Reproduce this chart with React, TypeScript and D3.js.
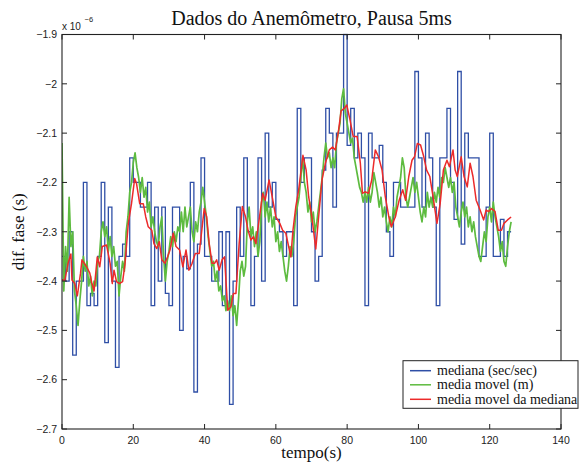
import React from 'react';
import * as d3 from 'd3';

const xTicks = [0, 20, 40, 60, 80, 100, 120, 140];
const yTicks = [-2.7, -2.6, -2.5, -2.4, -2.3, -2.2, -2.1, -2.0, -1.9];

// mediana (sec/sec): one value per second, t = 0..125, held until END_T
const medianaV = [
  -2.35, -2.4, -2.3, -2.55, -2.4, -2.4, -2.2, -2.45, -2.425, -2.45,
  -2.35, -2.2, -2.525, -2.25, -2.4, -2.575, -2.35, -2.325, -2.35, -2.15,
  -2.2, -2.2, -2.25, -2.25, -2.2, -2.45, -2.25, -2.4, -2.25, -2.425,
  -2.45, -2.25, -2.25, -2.5, -2.35, -2.375, -2.2, -2.625, -2.325, -2.15,
  -2.35, -2.35, -2.4, -2.4, -2.3, -2.45, -2.3, -2.65, -2.4, -2.25,
  -2.35, -2.15, -2.3, -2.45, -2.35, -2.15, -2.4, -2.1, -2.25, -2.2,
  -2.275, -2.3, -2.35, -2.3, -2.3, -2.45, -2.05, -2.2, -2.15, -2.15,
  -2.3, -2.4, -2.35, -2.175, -2.05, -2.1, -2.25, -2.1, -2.1, -1.9,
  -2.125, -2.05, -2.15, -2.1, -2.15, -2.45, -2.1, -2.15, -2.15, -2.125,
  -2.2, -2.3, -2.35, -2.2, -2.2, -2.25, -2.25, -2.25, -2.25, -1.975,
  -2.15, -2.25, -2.1, -2.15, -2.25, -2.45, -2.15, -2.15, -2.05, -2.2,
  -2.275, -1.975, -2.325, -2.1, -2.15, -2.15, -2.15, -2.35, -2.35, -2.25,
  -2.1, -2.35, -2.35, -2.275, -2.35, -2.3,
];
const MEDIANA_END_T = 126;

// media movel (m): sampled every 0.5 s
const MOVEL_DT = 0.5;
const movelV = [
  -2.12, -2.42, -2.33, -2.38, -2.23, -2.33, -2.30, -2.42, -2.45, -2.49,
  -2.44, -2.40, -2.35, -2.38, -2.36, -2.41, -2.39, -2.43, -2.40, -2.41,
  -2.36, -2.35, -2.30, -2.28, -2.31, -2.29, -2.34, -2.31, -2.35, -2.33,
  -2.37, -2.36, -2.43, -2.39, -2.36, -2.38, -2.30, -2.27, -2.22, -2.20,
  -2.16, -2.14, -2.17, -2.19, -2.22, -2.19, -2.23, -2.21, -2.26, -2.24,
  -2.29, -2.27, -2.30, -2.32, -2.33, -2.29, -2.27, -2.35, -2.40, -2.36,
  -2.34, -2.31, -2.33, -2.30, -2.32, -2.29, -2.30, -2.26, -2.30, -2.25,
  -2.29, -2.27, -2.25, -2.30, -2.32, -2.28, -2.30, -2.26, -2.24, -2.21,
  -2.24, -2.27, -2.31, -2.34, -2.37, -2.36, -2.40, -2.38, -2.42, -2.41,
  -2.44, -2.43, -2.46, -2.44, -2.46, -2.43, -2.47, -2.45, -2.49, -2.44,
  -2.38, -2.36, -2.39, -2.37, -2.28, -2.25, -2.31, -2.29, -2.33, -2.30,
  -2.35, -2.32, -2.24, -2.22, -2.27, -2.24, -2.28, -2.25, -2.29, -2.27,
  -2.32, -2.30, -2.34, -2.32, -2.35, -2.38, -2.40, -2.37, -2.33, -2.35,
  -2.32, -2.27, -2.25, -2.23, -2.19, -2.15, -2.20, -2.22, -2.26, -2.24,
  -2.28, -2.26, -2.30, -2.28, -2.25, -2.22, -2.19, -2.15, -2.12, -2.15,
  -2.14, -2.17, -2.15, -2.17, -2.12, -2.10, -2.08, -2.03, -2.01, -2.06,
  -2.08, -2.10, -2.12, -2.11, -2.15, -2.17, -2.19, -2.21, -2.22, -2.24,
  -2.22, -2.24, -2.21, -2.24, -2.22, -2.18, -2.20, -2.22, -2.25, -2.23,
  -2.27, -2.25, -2.28, -2.30, -2.27, -2.29, -2.25, -2.27, -2.23, -2.21,
  -2.19, -2.15, -2.17, -2.23, -2.25, -2.23, -2.21, -2.19, -2.22, -2.20,
  -2.23, -2.26, -2.28, -2.25, -2.27, -2.22, -2.25, -2.23, -2.25, -2.22,
  -2.24, -2.21, -2.23, -2.19, -2.20, -2.17, -2.19, -2.21, -2.19, -2.22,
  -2.20, -2.25, -2.27, -2.29, -2.26, -2.24, -2.27, -2.25, -2.29, -2.27,
  -2.30, -2.28, -2.31, -2.33, -2.35, -2.36, -2.33, -2.30, -2.32, -2.27,
  -2.25, -2.28, -2.24, -2.27, -2.29, -2.31, -2.34, -2.32, -2.36, -2.37,
  -2.33, -2.30, -2.28,
];

// media movel da mediana
const mediaMedianaT = [
  0, 0.8, 1.7, 2.5, 2.8, 3.6, 4.3, 5.2, 5.6, 6.9, 7.8, 8.4, 9.0, 9.9, 10.6, 11.3, 12.5, 13.5, 14.1, 14.6,
  15.3, 16.1, 17.0, 17.7, 18.6, 19.5, 20.4, 20.9, 21.8, 22.8, 23.5, 24.2, 25.2, 25.8, 26.6, 27.3, 28.0, 28.9, 29.6, 30.3,
  31.2, 32.0, 33.0, 33.9, 34.8, 35.6, 36.5, 37.4, 38.5, 39.9, 40.6, 41.3, 42.1, 42.8, 43.4, 44.1, 44.9, 45.6, 46.5, 47.4,
  48.1, 48.8, 49.7, 50.6, 51.5, 52.2, 53.0, 53.7, 54.4, 55.3, 56.3, 57.0, 58.1, 58.8, 60.0, 61.1, 61.9, 62.8, 64.2, 64.8,
  65.6, 66.4, 67.6, 68.5, 69.2, 70.1, 71.2, 72.0, 72.95, 73.9, 75.0, 75.9, 76.7, 77.6, 78.3, 79.2, 79.9, 80.8, 81.7, 82.8,
  83.7, 84.3, 85.0, 86.0, 86.9, 87.9, 88.8, 89.8, 90.7, 91.7, 92.4, 93.5, 94.6, 95.6, 96.4, 97.3, 98.2, 98.9, 99.7, 100.6,
  101.5, 102.3, 103.2, 104.1, 105.2, 106.1, 107.0, 108.0, 108.7, 109.7, 110.3, 110.9, 112.0, 112.8, 113.7, 114.5, 115.3, 116.2, 117.3, 118.3,
  119.0, 119.7, 120.5, 121.5, 122.4, 123.3, 124.0, 125.0, 126.0,
];
const mediaMedianaV = [
  -2.398, -2.398, -2.364, -2.345, -2.398, -2.405, -2.430, -2.384, -2.357, -2.371, -2.384, -2.405, -2.420, -2.351, -2.371, -2.330, -2.327, -2.364, -2.405, -2.378,
  -2.401, -2.405, -2.401, -2.364, -2.283, -2.243, -2.192, -2.202, -2.243, -2.243, -2.270, -2.290, -2.297, -2.324, -2.334, -2.320, -2.357, -2.364, -2.351, -2.337,
  -2.303, -2.330, -2.337, -2.371, -2.337, -2.378, -2.364, -2.344, -2.344, -2.253, -2.270, -2.324, -2.364, -2.364, -2.357, -2.378, -2.357, -2.351, -2.459, -2.452,
  -2.425, -2.425, -2.324, -2.249, -2.270, -2.297, -2.317, -2.310, -2.324, -2.276, -2.222, -2.236, -2.195, -2.222, -2.270, -2.283, -2.297, -2.303, -2.351, -2.297,
  -2.249, -2.215, -2.145, -2.175, -2.229, -2.270, -2.335, -2.270, -2.195, -2.161, -2.134, -2.128, -2.134, -2.094, -2.055, -2.050, -2.043, -2.073, -2.107, -2.107,
  -2.161, -2.222, -2.219, -2.222, -2.195, -2.134, -2.148, -2.175, -2.229, -2.270, -2.290, -2.270, -2.236, -2.215, -2.236, -2.188, -2.155, -2.148, -2.121, -2.124,
  -2.148, -2.175, -2.188, -2.229, -2.283, -2.243, -2.175, -2.155, -2.168, -2.134, -2.175, -2.188, -2.148, -2.188, -2.209, -2.161, -2.188, -2.236, -2.256, -2.276,
  -2.256, -2.259, -2.253, -2.259, -2.297, -2.297, -2.283, -2.276, -2.270,
];

const legendLabels = ['mediana (sec/sec)', 'media movel (m)', 'media movel da mediana'];
const colors = ['#2f4fa6', '#5dbb3f', '#ec2a2a'];

const W = 585;
const H = 467;
const M = { left: 62, right: 561, top: 34.5, bottom: 429 };

export default function App() {
  const x = d3.scaleLinear().domain([0, 140]).range([M.left, M.right]);
  const y = d3.scaleLinear().domain([-2.7, -1.9]).range([M.bottom, M.top]);

  const blueData: [number, number][] = medianaV.map((v, i) => [i, v]);
  blueData.push([MEDIANA_END_T, medianaV[medianaV.length - 1]]);
  const greenData: [number, number][] = movelV.map((v, i) => [i * MOVEL_DT, v]);
  const redData: [number, number][] = mediaMedianaT.map((t, i) => [t, mediaMedianaV[i]]);

  const lineStep = d3.line<[number, number]>().x(d => x(d[0])).y(d => y(d[1])).curve(d3.curveStepAfter);
  const line = d3.line<[number, number]>().x(d => x(d[0])).y(d => y(d[1]));

  const fmtY = (v: number) => {
    const s = d3.format('')(+v.toFixed(1));
    return s.replace('-', '\u2212');
  };

  const tickLen = 5;
  const sans = "'Liberation Sans', Arial, Helvetica, sans-serif";
  const serif = "'Liberation Serif', 'Times New Roman', serif";

  const legX = 403, legY = 360.7, legW = 175, legH = 47.6;
  const legRows = [370.7, 384.8, 399.3];

  return (
    <svg width={W} height={H} style={{ position: 'absolute', left: 0, top: 0, background: '#fff' }}>
      <rect x={0} y={0} width={W} height={H} fill="#fff" />
      <defs>
        <clipPath id="plotClip">
          <rect x={M.left} y={M.top - 1} width={M.right - M.left} height={M.bottom - M.top + 2} />
        </clipPath>
      </defs>
      <text x={(M.left + M.right) / 2} y={25} textAnchor="middle" fontFamily={serif} fontSize={20} fill="#111">
        Dados do Anemômetro, Pausa 5ms
      </text>
      <text x={M.left} y={29.5} fontFamily={sans} fontSize={10} fill="#222">x 10</text>
      <text x={84.5} y={22} fontFamily={sans} fontSize={7.5} fill="#222">−6</text>

      <g clipPath="url(#plotClip)">
        <path d={lineStep(blueData) || ''} fill="none" stroke={colors[0]} strokeWidth={1.3} />
        <path d={line(greenData) || ''} fill="none" stroke={colors[1]} strokeWidth={1.7} strokeLinejoin="round" />
        <path d={line(redData) || ''} fill="none" stroke={colors[2]} strokeWidth={1.5} strokeLinejoin="round" />
      </g>

      <rect x={M.left} y={M.top} width={M.right - M.left} height={M.bottom - M.top} fill="none" stroke="#222" strokeWidth={1.1} />

      {xTicks.map(t => (
        <g key={'xt' + t}>
          <line x1={x(t)} x2={x(t)} y1={M.bottom} y2={M.bottom - tickLen} stroke="#222" strokeWidth={1} />
          <line x1={x(t)} x2={x(t)} y1={M.top} y2={M.top + tickLen} stroke="#222" strokeWidth={1} />
          <text x={x(t)} y={444} textAnchor="middle" fontFamily={sans} fontSize={10.5} fill="#222">{t}</text>
        </g>
      ))}
      {yTicks.map(t => (
        <g key={'yt' + t}>
          <line x1={M.left} x2={M.left + tickLen} y1={y(t)} y2={y(t)} stroke="#222" strokeWidth={1} />
          <line x1={M.right} x2={M.right - tickLen} y1={y(t)} y2={y(t)} stroke="#222" strokeWidth={1} />
          <text x={57} y={y(t) + 3.8} textAnchor="end" fontFamily={sans} fontSize={10.5} fill="#222">{fmtY(t)}</text>
        </g>
      ))}

      <text x={(M.left + M.right) / 2} y={458} textAnchor="middle" fontFamily={serif} fontSize={17} fill="#111">tempo(s)</text>
      <text transform={`translate(24, ${(M.top + M.bottom) / 2}) rotate(-90)`} textAnchor="middle" fontFamily={serif} fontSize={17} fill="#111">dif. fase (s)</text>

      <rect x={legX} y={legY} width={legW} height={legH} fill="#fff" stroke="#222" strokeWidth={1} />
      {legendLabels.map((lab, i) => (
        <g key={lab}>
          <line x1={410} x2={431} y1={legRows[i]} y2={legRows[i]} stroke={colors[i]} strokeWidth={1.5} />
          <text x={437} y={legRows[i] + 4.5} fontFamily={serif} fontSize={14} fill="#111">{lab}</text>
        </g>
      ))}
    </svg>
  );
}
